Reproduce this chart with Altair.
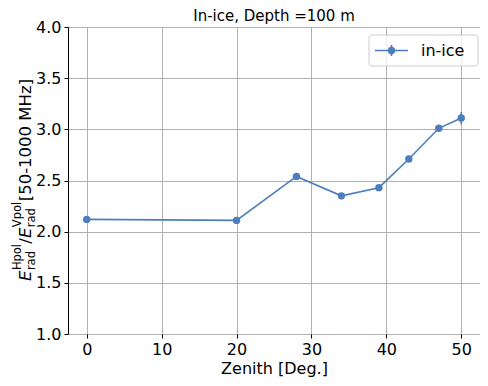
import altair as alt
import pandas as pd

zenith = [0, 20, 28, 34, 39, 43, 47, 50]
ratio = [2.12, 2.11, 2.54, 2.35, 2.43, 2.71, 3.01, 3.11]
err = [0.02, 0.02, 0.03, 0.025, 0.02, 0.03, 0.03, 0.06]

x_ticks = [0, 10, 20, 30, 40, 50]
y_ticks = [1.0, 1.5, 2.0, 2.5, 3.0, 3.5, 4.0]

title_text = "In-ice, Depth =100 m"
x_title = "Zenith [Deg.]"
legend_label = "in-ice"

W, H = 412, 307
FONT = "DejaVu Sans"
COLOR = "#4b7dbf"

df = pd.DataFrame({"zenith": zenith, "ratio": ratio, "err": err})
df["lo"] = df["ratio"] - df["err"]
df["hi"] = df["ratio"] + df["err"]

xs = alt.Scale(domain=[-2.5, 52.5], nice=False, zero=False)
ys = alt.Scale(domain=[1.0, 4.0], nice=False, zero=False)

xaxis = alt.Axis(values=x_ticks, title=x_title, grid=True)
yaxis = alt.Axis(values=y_ticks, format=".1f", title=None, grid=True)

base = alt.Chart(df)
line = base.mark_line(color=COLOR, strokeWidth=1.6).encode(
    x=alt.X("zenith:Q", scale=xs, axis=xaxis),
    y=alt.Y("ratio:Q", scale=ys, axis=yaxis),
)
bars = base.mark_rule(color=COLOR, strokeWidth=1.6).encode(
    x="zenith:Q", y="lo:Q", y2="hi:Q"
)
pts = base.mark_circle(color=COLOR, opacity=1, size=55).encode(
    x="zenith:Q", y="ratio:Q"
)

one = pd.DataFrame({"a": [0]})

# title as text
ttl = alt.Chart(one).mark_text(
    text=title_text, font=FONT, fontSize=15, align="center", baseline="alphabetic", color="black"
).encode(x=alt.value(W / 2), y=alt.value(-6.5))

# legend
lg_box = alt.Chart(one).mark_rect(
    fill="white", fillOpacity=0.8, stroke="#cccccc", strokeWidth=1, cornerRadius=3
).encode(x=alt.value(301), x2=alt.value(410), y=alt.value(8), y2=alt.value(39))
lg_line = alt.Chart(one).mark_rule(color=COLOR, strokeWidth=1.6).encode(
    x=alt.value(307), x2=alt.value(340), y=alt.value(23.5)
)
lg_bar = alt.Chart(one).mark_rule(color=COLOR, strokeWidth=1.6).encode(
    x=alt.value(323.5), y=alt.value(18), y2=alt.value(29)
)
lg_pt = alt.Chart(one).mark_circle(color=COLOR, opacity=1, size=55).encode(
    x=alt.value(323.5), y=alt.value(23.5)
)
lg_txt = alt.Chart(one).mark_text(
    text=legend_label, font=FONT, fontSize=16, align="left", baseline="middle", color="black"
).encode(x=alt.value(353), y=alt.value(23.5))

# y-axis label built of pieces (rotated)
MAIN = 16.5
SMALL = 11.5
pieces = []
ystart = 254.0
def piece(text, xpos, y, size, italic=False):
    return alt.Chart(one).mark_text(
        text=text, font=FONT, fontSize=size, angle=270, align="left",
        baseline="alphabetic", color="black",
        fontStyle="italic" if italic else "normal",
    ).encode(x=alt.value(xpos), y=alt.value(y))

xb = -37.5
xsup = -47
xsub = -33.5
y = ystart
pieces.append(piece("E", xb, y, MAIN, True)); y -= 0.66 * MAIN
pieces.append(piece("Hpol", xsup, y, SMALL)); pieces.append(piece("rad", xsub, y, SMALL)); y -= 2.3 * SMALL
pieces.append(piece("/", xb, y, MAIN)); y -= 0.34 * MAIN
pieces.append(piece("E", xb, y, MAIN, True)); y -= 0.66 * MAIN
pieces.append(piece("Vpol", xsup, y, SMALL)); pieces.append(piece("rad", xsub, y, SMALL)); y -= 2.25 * SMALL
pieces.append(piece(" [50-1000 MHz]", xb, y, MAIN))

chart = alt.layer(line, bars, pts, ttl, lg_box, lg_line, lg_bar, lg_pt, lg_txt, *pieces).properties(
    width=W, height=H,
    autosize=alt.AutoSizeParams(type="none"),
    padding={"left": 60, "top": 19, "right": 0, "bottom": 44},
).configure_view(
    stroke="black", strokeWidth=1
).configure_axis(
    labelFont=FONT, labelFontSize=16, labelColor="black",
    titleFont=FONT, titleFontSize=16, titleFontWeight="normal", titleColor="black",
    gridColor="#b0b0b0", gridWidth=1, gridOpacity=1,
    tickColor="black", tickSize=4, tickWidth=1,
    domain=False, labelPadding=3,
).configure_axisX(titlePadding=3)

chart.save("out.html", embed_options={"renderer": "svg", "actions": False})
